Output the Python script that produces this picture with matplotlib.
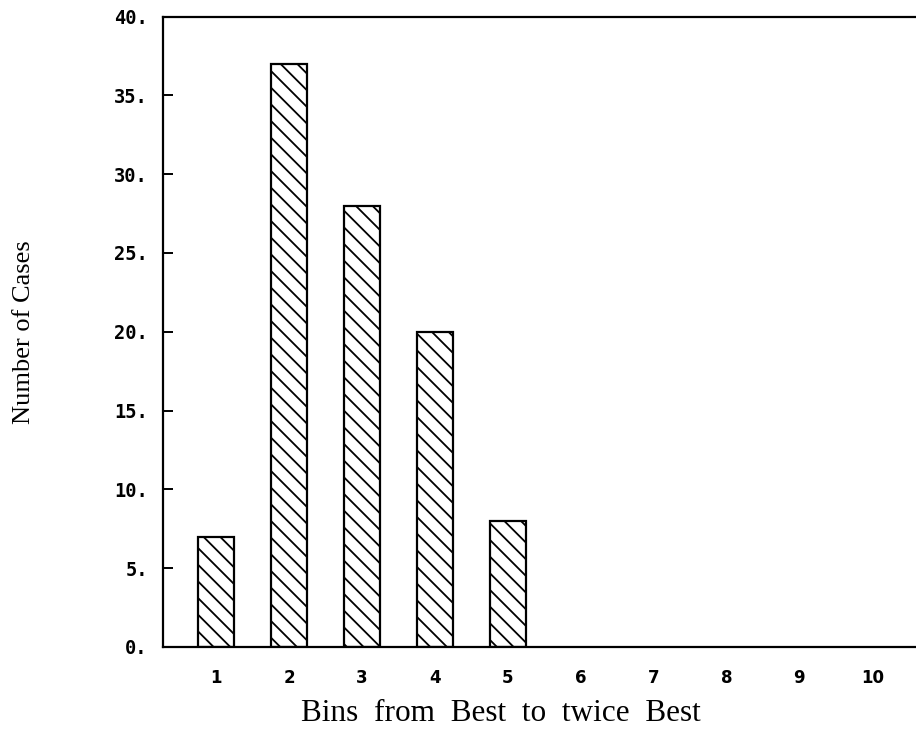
import matplotlib
matplotlib.use('Agg')
import matplotlib.pyplot as plt
from matplotlib.ticker import FuncFormatter

# Data
bins = [1, 2, 3, 4, 5, 6, 7, 8, 9, 10]
cases = [7, 37, 28, 20, 8, 0, 0, 0, 0, 0]
y_ticks = [0, 5, 10, 15, 20, 25, 30, 35, 40]

plt.rcParams['hatch.linewidth'] = 1.3

fig = plt.figure(figsize=(9.16, 7.54), dpi=100)
ax = fig.add_axes([0.178, 0.142, 0.822, 0.836])

# only draw the non-empty bins, the rest are zero
shown = [(b, c) for b, c in zip(bins, cases) if c > 0]
ax.bar([b for b, _ in shown], [c for _, c in shown], width=0.5,
       color='white', edgecolor='black', linewidth=1.6, hatch='\\\\')

ax.set_xlim(0.27, 10.6)
ax.set_ylim(0, 40)

ax.spines['right'].set_visible(False)
for s in ['left', 'top', 'bottom']:
    ax.spines[s].set_linewidth(1.6)

ax.set_yticks(y_ticks)
ax.yaxis.set_major_formatter(FuncFormatter(lambda v, p: f'{int(v)}.'))
ax.tick_params(axis='y', direction='in', length=7, width=1.4, pad=11)
for lab in ax.get_yticklabels():
    lab.set_fontfamily('DejaVu Sans Mono')
    lab.set_fontweight('bold')
    lab.set_fontsize(13.5)

ax.set_xticks(bins)
ax.set_xticklabels([str(b) for b in bins])
ax.tick_params(axis='x', length=0, pad=16)
for lab in ax.get_xticklabels():
    lab.set_fontfamily('DejaVu Sans')
    lab.set_fontweight('bold')
    lab.set_fontsize(12)

ax.set_xlabel('Bins  from  Best  to  twice  Best', fontfamily='Liberation Serif',
              fontsize=22.5)
ax.xaxis.set_label_coords(0.449, -0.083)
ax.set_ylabel('Number of Cases', fontfamily='Liberation Serif', fontsize=19)
ax.yaxis.set_label_coords(-0.17, 0.5)

fig.savefig('out.png', dpi=100)
